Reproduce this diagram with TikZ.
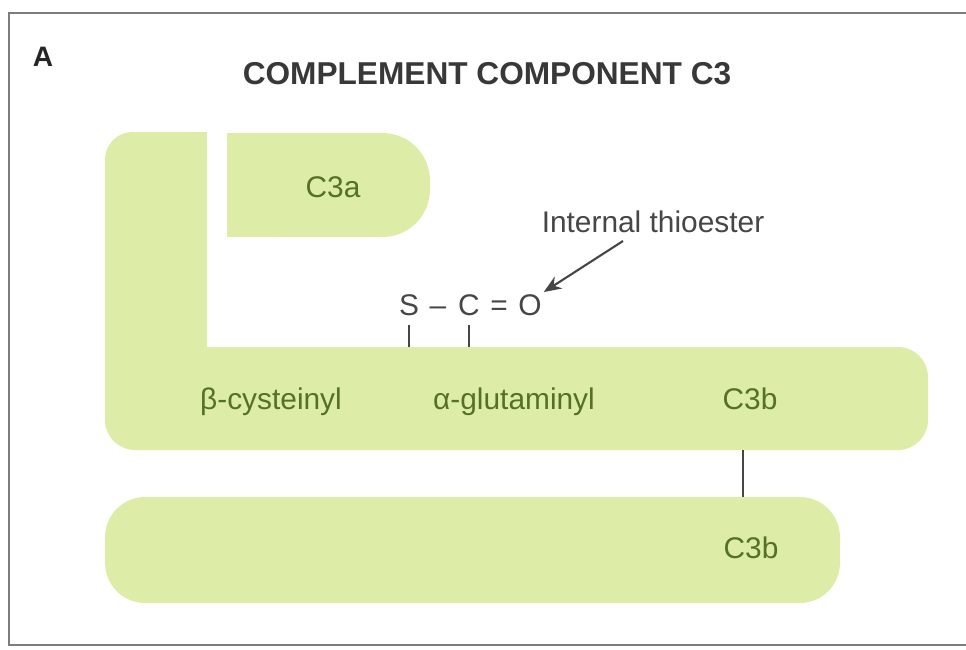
\documentclass[tikz,border=0pt]{standalone}
\usepackage{fontspec}
\setmainfont{Liberation Sans}
\usetikzlibrary{arrows.meta}
\definecolor{chaingreen}{RGB}{221,237,168}
\definecolor{chaintext}{RGB}{86,112,38}
\definecolor{inkgray}{RGB}{70,70,70}
\definecolor{framegray}{RGB}{125,125,125}

\begin{document}
\begin{tikzpicture}[
        x=0.02cm, y=-0.02cm,
        chainfill/.style={fill=chaingreen, draw=none},
        segment/.style={text=chaintext, anchor=base, inner sep=1pt, font=\fontsize{17}{20}\selectfont},
        atom/.style={text=inkgray, anchor=base, inner sep=1pt, font=\fontsize{17}{20}\selectfont},
        bond/.style={draw=inkgray, line width=1.3pt},
        pointer/.style={-{Stealth[length=10pt,width=8pt]}, draw=inkgray, fill=inkgray, line width=1.2pt}
    ]
        \useasboundingbox (0,0) rectangle (966,649);
        \draw[framegray, line width=1.2pt] (9,13) rectangle (990,645);

        \node[font=\fontsize{16}{18}\selectfont\bfseries, text=black!85, anchor=base] (panel) at (43,66) {A};
        \node[font=\fontsize{18}{20}\selectfont\bfseries, text=black!78, anchor=base] (title) at (487,84) {COMPLEMENT COMPONENT C3};

        \fill[chainfill, rounded corners=0.6cm] (105,347) rectangle (928,450);
        \fill[chainfill, rounded corners=0.55cm] (105,132) rectangle (207,420);
        \fill[chainfill] (160,132) rectangle (207,380);
        \fill[chainfill, rounded corners=0.95cm] (227,133) rectangle (430,237);
        \fill[chainfill] (227,133) rectangle (340,237);
        \node[chainfill, rounded corners=0.8cm, minimum width=14.7cm, minimum height=2.12cm, inner sep=0pt] (betachain) at (472.5,550) {};

        \coordinate (alphatop) at (0,347);
        \coordinate (alphabottom) at (743,450);

        \node[segment] (c3a) at (333,197) {C3a};
        \node[segment] (cysteinyl) at (271,409) {β-cysteinyl};
        \node[segment] (glutaminyl) at (514,409) {α-glutaminyl};
        \node[segment] (c3bupper) at (750,409) {C3b};
        \node[segment] (c3blower) at (751,558) {C3b};

        \node[atom] (sulfur) at (409,315) {S};
        \node[atom] (single) at (438,315) {–};
        \node[atom] (carbon) at (469,315) {C};
        \node[atom] (double) at (499,315) {=};
        \node[atom] (oxygen) at (530,315) {O};
        \node[atom] (thioester) at (653,232) {Internal thioester};
        \coordinate (pointstart) at (623,241);

        \draw[bond] ([yshift=-0.16cm]sulfur.south) -- (sulfur.south |- alphatop);
        \draw[bond] ([yshift=-0.16cm]carbon.south) -- (carbon.south |- alphatop);
        \draw[bond] (alphabottom) -- (alphabottom |- betachain.north);
        \draw[pointer] (pointstart) -- (oxygen.north east);
    \end{tikzpicture}
\end{document}
